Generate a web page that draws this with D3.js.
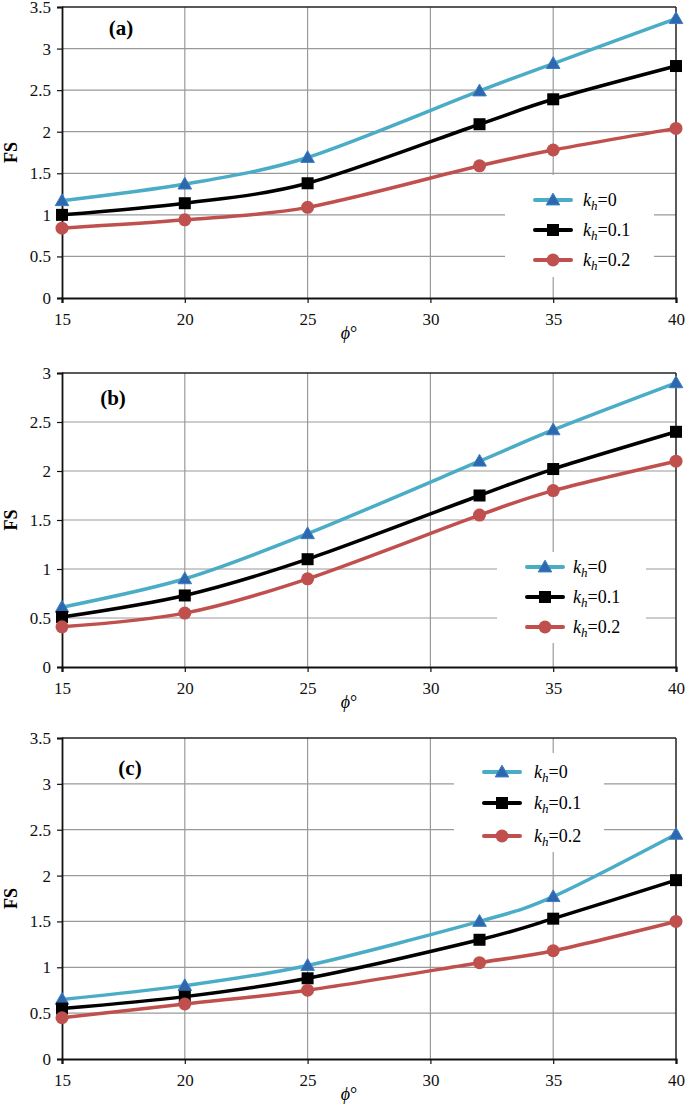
<!DOCTYPE html>
<html><head><meta charset="utf-8">
<script src="https://cdn.jsdelivr.net/npm/d3@7"></script>
<style>body{margin:0;background:#fff}svg{display:block}</style>
</head><body>
<script>
const phi = [15, 20, 25, 32, 35, 40];
const xTicks = [15, 20, 25, 30, 35, 40];
const seriesNames = ["0", "0.1", "0.2"];
// panel (a)
const a_kh0  = [1.17, 1.37, 1.69, 2.49, 2.82, 3.36];
const a_kh01 = [1.00, 1.14, 1.38, 2.09, 2.39, 2.79];
const a_kh02 = [0.84, 0.94, 1.09, 1.59, 1.78, 2.04];
// panel (b)
const b_kh0  = [0.61, 0.90, 1.36, 2.10, 2.42, 2.90];
const b_kh01 = [0.51, 0.73, 1.10, 1.75, 2.02, 2.40];
const b_kh02 = [0.41, 0.55, 0.90, 1.55, 1.80, 2.10];
// panel (c)
const c_kh0  = [0.65, 0.80, 1.02, 1.50, 1.77, 2.45];
const c_kh01 = [0.55, 0.68, 0.88, 1.30, 1.53, 1.95];
const c_kh02 = [0.45, 0.60, 0.75, 1.05, 1.18, 1.50];
const yTicksA = [0, 0.5, 1, 1.5, 2, 2.5, 3, 3.5];
const yTicksB = [0, 0.5, 1, 1.5, 2, 2.5, 3];
const yTicksC = [0, 0.5, 1, 1.5, 2, 2.5, 3, 3.5];

const panels = [
  {label:"(a)", data:[a_kh0,a_kh01,a_kh02], yTicks:yTicksA, ymax:3.5, top:7, bottom:298,
   lab:[121,28], legend:{x0:505,x1:654,y0:175,y1:277, sx:553, rows:[200,230,260], tx:583}},
  {label:"(b)", data:[b_kh0,b_kh01,b_kh02], yTicks:yTicksB, ymax:3, top:373, bottom:667,
   lab:[113,398], legend:{x0:497,x1:646,y0:552,y1:643, sx:545, rows:[567,597,627], tx:573}},
  {label:"(c)", data:[c_kh0,c_kh01,c_kh02], yTicks:yTicksC, ymax:3.5, top:738, bottom:1059,
   lab:[130,768], legend:{x0:454,x1:604,y0:753,y1:852, sx:502, rows:[772,803,836], tx:534}}
];
const colors = ["#4BACC6", "#000000", "#C0504D"];
const markerFill = ["#2D68AE", "#000000", "#C0504D"];
const L = 62, R = 676;
const W = 685, H = 1107;
const font = "'Liberation Serif','Times New Roman',serif";

const svg = d3.select("body").append("svg").attr("width", W).attr("height", H)
  .style("font-family", font);

const x = d3.scaleLinear().domain([15, 40]).range([L, R]);

function marker(g, i, cx, cy) {
  if (i === 0) {
    g.append("path").attr("d", d3.symbol(d3.symbolTriangle, 80)())
      .attr("transform", `translate(${cx},${cy + 1})`)
      .attr("fill", markerFill[0]).attr("stroke", "#3A7DC2").attr("stroke-width", 1);
  } else if (i === 1) {
    g.append("rect").attr("x", cx - 6).attr("y", cy - 6).attr("width", 12).attr("height", 12)
      .attr("fill", "#000");
  } else {
    g.append("circle").attr("cx", cx).attr("cy", cy).attr("r", 6.5).attr("fill", markerFill[2]);
  }
}

panels.forEach(p => {
  const y = d3.scaleLinear().domain([0, p.ymax]).range([p.bottom, p.top]);
  const g = svg.append("g");
  // gridlines
  g.selectAll(".hg").data(p.yTicks.filter(t => t > 0 && t < p.ymax)).join("line")
    .attr("x1", L).attr("x2", R).attr("y1", d => y(d)).attr("y2", d => y(d))
    .attr("stroke", "#9a9a9a").attr("stroke-width", 1.2);
  g.selectAll(".vg").data(xTicks.filter(t => t > 15 && t < 40)).join("line")
    .attr("x1", d => x(d)).attr("x2", d => x(d)).attr("y1", p.top).attr("y2", p.bottom)
    .attr("stroke", "#9a9a9a").attr("stroke-width", 1.2);
  // top & right border
  g.append("line").attr("x1", L).attr("x2", R).attr("y1", p.top).attr("y2", p.top)
    .attr("stroke", "#222").attr("stroke-width", 1.5);
  g.append("line").attr("x1", R).attr("x2", R).attr("y1", p.top).attr("y2", p.bottom)
    .attr("stroke", "#222").attr("stroke-width", 1.5);
  // axes
  const ya = g.append("g").attr("transform", `translate(${L},0)`)
    .call(d3.axisLeft(y).tickValues(p.yTicks).tickSize(5).tickPadding(6).tickFormat(d3.format("")));
  ya.select(".domain").attr("stroke", "#111").attr("stroke-width", 1.8);
  ya.selectAll(".tick line").attr("stroke", "#111").attr("stroke-width", 1.2);
  ya.selectAll("text").attr("font-size", 17).attr("font-family", font).attr("fill", "#111");
  const xa = g.append("g").attr("transform", `translate(0,${p.bottom})`)
    .call(d3.axisBottom(x).tickValues(xTicks).tickSize(5).tickPadding(10));
  xa.select(".domain").attr("stroke", "#111").attr("stroke-width", 2.2);
  xa.selectAll(".tick line").attr("stroke", "#111").attr("stroke-width", 1.2);
  xa.selectAll("text").attr("font-size", 17).attr("font-family", font).attr("fill", "#111");
  // axis titles
  g.append("text").attr("transform", `translate(17,${(p.top + p.bottom) / 2}) rotate(-90)`)
    .attr("text-anchor", "middle").attr("font-weight", "bold").attr("font-size", 18).text("FS");
  const xt = g.append("text").attr("x", 349).attr("y", p.bottom + 41).attr("text-anchor", "middle")
    .attr("font-size", 18);
  xt.append("tspan").attr("font-style", "italic").text("ϕ");
  xt.append("tspan").text("°");
  // panel label
  g.append("text").attr("x", p.lab[0]).attr("y", p.lab[1] + 7).attr("text-anchor", "middle")
    .attr("font-weight", "bold").attr("font-size", 21).text(p.label);
  // lines
  const line = d3.line().x((d, i) => x(phi[i])).y(d => y(d)).curve(d3.curveCardinal.tension(0.1));
  p.data.forEach((s, i) => {
    g.append("path").attr("d", line(s)).attr("fill", "none").attr("stroke", colors[i])
      .attr("stroke-width", 3.5).attr("stroke-linejoin", "round");
  });
  p.data.forEach((s, i) => {
    const mg = g.append("g");
    s.forEach((v, j) => marker(mg, i, x(phi[j]), y(v)));
  });
  // legend
  const lg = p.legend;
  g.append("rect").attr("x", lg.x0).attr("y", lg.y0).attr("width", lg.x1 - lg.x0)
    .attr("height", lg.y1 - lg.y0).attr("fill", "#fff");
  seriesNames.forEach((n, i) => {
    const ry = lg.rows[i];
    g.append("line").attr("x1", lg.sx - 18).attr("x2", lg.sx + 18).attr("y1", ry).attr("y2", ry)
      .attr("stroke", colors[i]).attr("stroke-width", 4).attr("stroke-linecap", "round");
    marker(g, i, lg.sx, ry);
    const t = g.append("text").attr("x", lg.tx).attr("y", ry + 6).attr("font-size", 18);
    t.append("tspan").attr("font-style", "italic").text("k");
    t.append("tspan").attr("font-style", "italic").attr("font-size", 13).attr("dy", 4).text("h");
    t.append("tspan").attr("dy", -4).text("=" + n);
  });
});
</script>
</body></html>
